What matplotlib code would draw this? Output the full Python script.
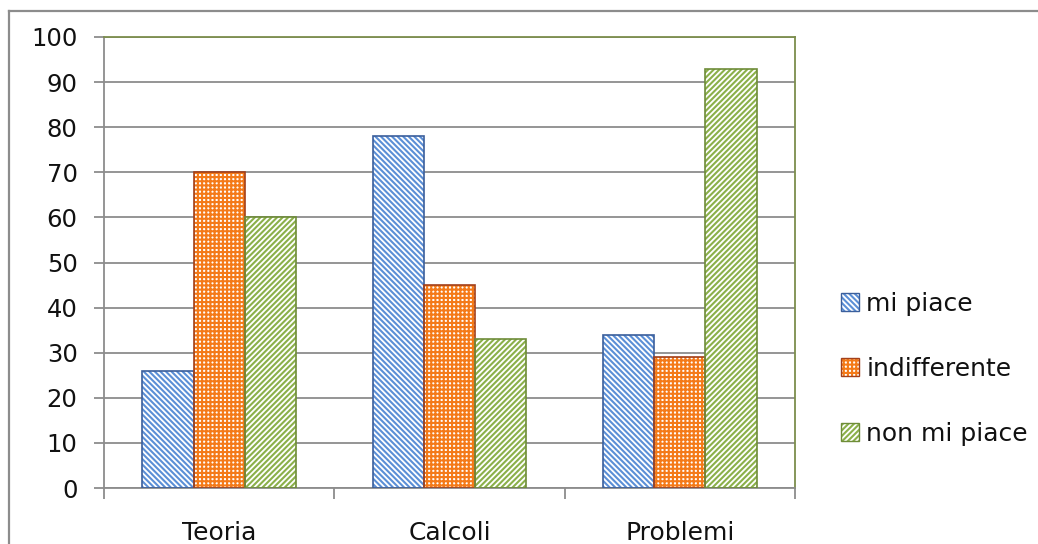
import matplotlib
matplotlib.use("Agg")
import matplotlib.pyplot as plt
from matplotlib.patches import Patch, Rectangle
from matplotlib.lines import Line2D
from matplotlib.legend_handler import HandlerBase
import numpy as np

categories = ["Teoria", "Calcoli", "Problemi"]
series_names = ["mi piace", "indifferente", "non mi piace"]
mi_piace = [26, 78, 34]
indifferente = [70, 45, 29]
non_mi_piace = [60, 33, 93]
y_ticks = [0, 10, 20, 30, 40, 50, 60, 70, 80, 90, 100]

series = [mi_piace, indifferente, non_mi_piace]
hatch_colors = ["#5b8fd6", "#f47a18", "#8bb04a"]
edge_colors = ["#3b5f9c", "#a3401a", "#6e8c38"]
hatches = ["\\" * 6, "++++", "/" * 6]

plt.rcParams["font.family"] = ["DejaVu Sans"]
plt.rcParams["hatch.linewidth"] = 1.5

fig = plt.figure(figsize=(10.38, 5.44), dpi=100)
ax = fig.add_axes([104 / 1038, 1 - 488 / 544, (795 - 104) / 1038, (488 - 37) / 544])

x = np.arange(len(categories))
width = 0.222
offsets = [-width, 0, width]

for vals, hc, ec, h, off in zip(series, hatch_colors, edge_colors, hatches, offsets):
    ax.bar(x + off, vals, width, facecolor="white", edgecolor=hc, hatch=h,
           linewidth=0, zorder=2)
    ax.bar(x + off, vals, width, fill=False, edgecolor=ec, linewidth=1.2, zorder=3)

ax.set_xlim(-0.5, len(categories) - 0.5)
ax.set_ylim(0, 100)
ax.set_yticks(y_ticks)
ax.set_yticklabels([str(t) for t in y_ticks], fontsize=17.5, color="#111111")

# category labels centred, ticks at category boundaries
ax.set_xticks(x)
ax.set_xticklabels(categories, fontsize=18, color="#111111")
ax.tick_params(axis="x", which="major", length=0, pad=24)
ax.set_xticks(np.arange(-0.5, len(categories)), minor=True)
ax.tick_params(axis="x", which="minor", length=8, width=1.3, color="#8c8c8c", direction="out")
ax.tick_params(axis="y", length=7, width=1.3, color="#8c8c8c", pad=12)

ax.yaxis.grid(True, color="#8c8c8c", linewidth=1.3)
ax.set_axisbelow(True)

for side in ["top", "right"]:
    ax.spines[side].set_color("#7c8e4c")
    ax.spines[side].set_linewidth(1.3)
for side in ["left", "bottom"]:
    ax.spines[side].set_color("#8c8c8c")
    ax.spines[side].set_linewidth(1.3)


class HatchBoxHandler(HandlerBase):
    """Legend key: hatched square with a separate outline colour."""

    def __init__(self, hatch_color, edge_color, hatch):
        super().__init__()
        self.hatch_color = hatch_color
        self.edge_color = edge_color
        self.hatch = hatch

    def create_artists(self, legend, orig_handle, xdescent, ydescent,
                       width, height, fontsize, trans):
        fill = Rectangle((-xdescent, -ydescent), width, height, facecolor="white",
                         edgecolor=self.hatch_color, hatch=self.hatch, linewidth=0,
                         transform=trans)
        outline = Rectangle((-xdescent, -ydescent), width, height, fill=False,
                            edgecolor=self.edge_color, linewidth=1.0, transform=trans)
        return [fill, outline]


handles = [Patch(facecolor="white") for _ in series_names]
handler_map = {hd: HatchBoxHandler(hc, ec, h)
               for hd, hc, ec, h in zip(handles, hatch_colors, edge_colors, hatches)}
leg = fig.legend(handles, series_names, loc="center left",
                 bbox_to_anchor=(818 / 1038, 1 - 369 / 544),
                 frameon=False, fontsize=18, handlelength=0.72, handleheight=0.72,
                 handletextpad=0.32, labelspacing=1.64, handler_map=handler_map)
for t in leg.get_texts():
    t.set_color("#111111")

# outer chart border
fig.add_artist(Line2D([9 / 1038, 9 / 1038], [0, 1 - 11 / 544], transform=fig.transFigure,
                      color="#8c8c8c", linewidth=1.6))
fig.add_artist(Line2D([9 / 1038, 1], [1 - 11 / 544, 1 - 11 / 544], transform=fig.transFigure,
                      color="#8c8c8c", linewidth=1.6))

fig.savefig("out.png", dpi=100)
